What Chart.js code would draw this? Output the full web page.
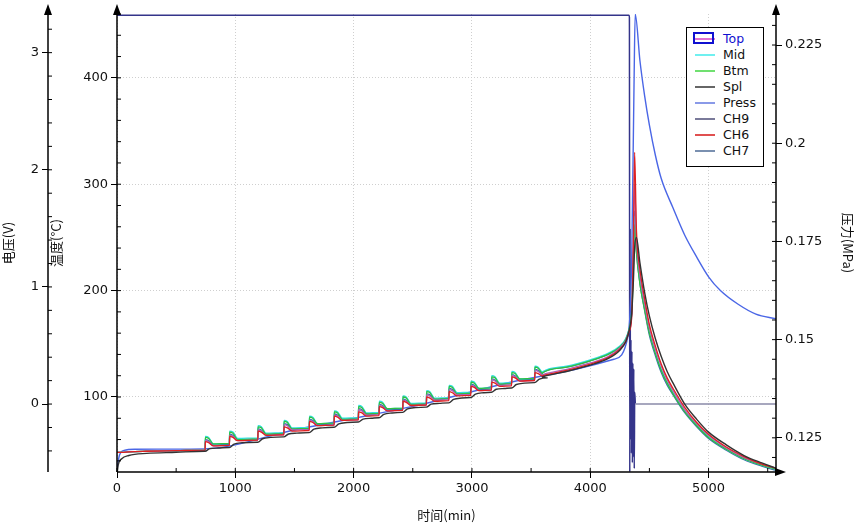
<!DOCTYPE html>
<html><head><meta charset="utf-8">
<script src="https://cdn.jsdelivr.net/npm/chart.js@4/dist/chart.umd.min.js"></script>
<style>
body{margin:0;background:#fff;font-family:"DejaVu Sans",sans-serif}
#wrap{position:relative;width:856px;height:527px}
#lg{position:absolute;left:686px;top:27px;width:78px;height:140px;border:1px solid #000;background:#fff;font-size:12.5px;line-height:16px;padding-top:3px;box-sizing:border-box}
#lg div{position:relative;height:16px;padding-left:36px;color:#111}
#lg span{position:absolute;left:8px;top:7px;width:20px;height:2px}
</style></head><body>
<div id="wrap"><canvas id="c" width="856" height="527"></canvas>
<div id="lg"></div></div>
<script>
// ---- data ----
const stepTimes = [745,950,1190,1410,1625,1835,2040,2215,2415,2615,2805,2990,3165,3335,3530];
const midPlateau = [56,61,66,71,75,80,85,89,94,99,104,108,113,117,122];
const midPeak    = [63,68,73,78,82,87,92,96,101,106,111,115,120,124,129];
const btmPlateau = [56,60,65,70,75,79,84,89,93,98,103,108,112,117,121];
const btmPeak    = [62,67,72,77,81,86,91,95,100,105,110,114,119,123,128];
const topPlateau = [54,59,64,69,73,78,83,87,92,97,102,106,111,115,120];
const topPeak    = [59,64,69,74,78,83,88,92,97,102,107,111,116,120,125];
const ch6Plateau = [54,59,64,68,73,78,82,87,92,96,101,106,110,115,119];
const ch6Peak    = [58,63,68,72,77,82,86,91,96,100,105,110,114,119,123];
const ch7Plateau = [55,60,65,70,74,79,84,88,93,98,103,107,112,116,121];
const ch7Peak    = [60,65,70,75,79,84,89,93,98,103,108,112,117,121,126];
const splPlateau = [52,57,62,66,71,76,80,85,90,94,99,104,108,113,118];
const tailT   = [3600,3800,4000,4150,4250,4300,4330,4350,4365,4375,4390,4420,4460,4500,4550,4600,4650,4700,4800,4900,5000,5150,5300,5450,5570];
const midTail = [124,129,135,141,148,155,165,180,230,270,240,210,185,162,142,126,114,104,87,74,63,51,42,36,32];
const btmTail = [123,128,134,140,147,154,164,178,220,262,236,206,182,160,141,125,113,103,86,73,62,51,42,36,32];
const topTail = [121,126,132,138,146,153,163,176,240,300,250,214,188,165,145,129,116,106,88,75,64,52,43,37,33];
const ch6Tail = [120,125,131,137,145,152,162,175,250,330,258,220,192,168,148,131,118,108,90,76,65,53,44,37,33];
const ch7Tail = [123,128,134,140,147,154,165,182,235,275,238,207,181,158,139,123,111,102,85,72,61,50,41,35,31];
const splTail = [119,124,130,136,144,152,163,178,210,240,250,226,198,176,155,138,124,113,93,79,67,55,45,38,33];
const startT  = [0,10,40,100,250,500,740];
const startV  = [48,48,48,48.5,49,49.5,50];
const splStartV = [27,36,42,45,47,48,49];
const voltT = [0,4328,4331,4334,4337,4340,4344,4348,4352,4356,4360,4364,4368,4372,4376,4382,4392,5570];
const voltV = [3.32,3.32,3.3,-0.58,1.5,-0.3,0.55,-0.42,0.45,-0.5,0.35,-0.45,0.3,-0.55,0.1,0,0,0];
const pressT = [0,20,60,150,740,1500,2500,3550,4200,4320,4350,4370,4380,4420,4460,4500,4550,4600,4700,4800,4900,5000,5100,5250,5400,5570];
const pressV = [0.117,0.1205,0.1218,0.1221,0.1222,0.127,0.133,0.1405,0.145,0.151,0.17,0.215,0.2329,0.221,0.212,0.2046,0.197,0.191,0.1835,0.1765,0.171,0.166,0.1625,0.159,0.1565,0.1553];

const tempTicks = [100,200,300,400];
const voltTicks = [0,1,2,3];
const pressTicks = [0.125,0.15,0.175,0.2,0.225];
const timeTicks = [0,1000,2000,3000,4000,5000];

function tempSeries(plateau, peak, tailV, sV, smooth){
  const pts = startT.map((t,i)=>({x:t,y:sV[i]}));
  let prev = sV[sV.length-1];
  stepTimes.forEach((t,i)=>{
    pts.push({x:t,y:prev});
    if(smooth){ pts.push({x:t+40,y:(prev+plateau[i])/2+1}); pts.push({x:t+110,y:plateau[i]}); }
    else { pts.push({x:t+2,y:peak[i]}); pts.push({x:t+30,y:peak[i]-1}); pts.push({x:t+70,y:plateau[i]}); }
    const next = i+1<stepTimes.length ? stepTimes[i+1]-2 : tailT[0]-10;
    pts.push({x:next,y:plateau[i]+0.5});
    prev = plateau[i]+0.5;
  });
  tailT.forEach((t,i)=>pts.push({x:t,y:tailV[i]}));
  return pts;
}
const zip=(a,b)=>a.map((x,i)=>({x,y:b[i]}));
const ds=(label,data,color,axis,w)=>({label,data,borderColor:color,yAxisID:axis,borderWidth:w||1.3,pointRadius:0,tension:0,cubicInterpolationMode:'monotone',fill:false});
const volt=ds('CH9',zip(voltT,voltV),'#34348a','yV',1.5);
volt.segment={borderColor:c=>c.p0.parsed.x>=4382?'#8a8aa8':undefined};
const datasets=[
  ds('Spl',tempSeries(splPlateau,splPlateau,splTail,splStartV,true),'#333333','yT',1.4),
  ds('CH6',tempSeries(ch6Plateau,ch6Peak,ch6Tail,startV),'#e02020','yT'),
  ds('Top',tempSeries(topPlateau,topPeak,topTail,startV),'#b060b8','yT'),
  ds('Btm',tempSeries(btmPlateau,btmPeak,btmTail,startV),'#30c040','yT'),
  ds('Mid',tempSeries(midPlateau,midPeak,midTail,startV),'#30e0e0','yT'),
  ds('CH7',tempSeries(ch7Plateau,ch7Peak,ch7Tail,startV),'#3a70a8','yT'),
  ds('Press',zip(pressT,pressV),'#4a66e6','yP',1.4),
  volt
];
const legendItems=[['Top','#e070d0'],['Mid','#70f0f0'],['Btm','#70e070'],['Spl','#666'],['Press','#8a9ae8'],['CH9','#7a7a9a'],['CH6','#e05050'],['CH7','#7a90b0']];
document.getElementById('lg').innerHTML=legendItems.map((it,i)=>`<div${i==0?' style="color:#1010d0"':''}><span style="background:${it[1]}"></span>${i==0?'<i style="position:absolute;left:6px;top:1px;width:21px;height:12px;border:2px solid #1010d0;box-sizing:border-box"></i>':''}${it[0]}</div>`).join('');

const tickFont={family:'DejaVu Sans',size:13};
const cjk={family:'Noto Sans CJK SC',size:13};
const minor={x:[0,5570,500],yT:[29.5,460,20],yV:[-0.58,3.33,0.2],yP:[0.1163,0.2329,0.005]};
const deco={id:'deco',afterDraw(ch){
  const c=ch.ctx; c.save(); c.strokeStyle='#000'; c.fillStyle='#000';
  const a=ch.chartArea;
  const vx=ch.scales.yV.right;
  c.lineWidth=1.5;
  c.beginPath();c.moveTo(a.left,a.bottom);c.lineTo(a.left,a.top-6);c.stroke();
  c.beginPath();c.moveTo(vx,a.bottom);c.lineTo(vx,a.top-6);c.stroke();
  c.beginPath();c.moveTo(a.right,a.bottom);c.lineTo(a.right,a.top-6);c.stroke();
  c.beginPath();c.moveTo(a.left,a.bottom);c.lineTo(a.right+6,a.bottom);c.stroke();
  const up=x=>{c.beginPath();c.moveTo(x,a.top-10);c.lineTo(x-4,a.top+1);c.lineTo(x+4,a.top+1);c.closePath();c.fill();};
  up(a.left);up(vx);up(a.right);
  c.beginPath();c.moveTo(a.right+10,a.bottom);c.lineTo(a.right-1,a.bottom-4);c.lineTo(a.right-1,a.bottom+4);c.closePath();c.fill();
  c.lineWidth=1;
  for(const k in minor){const s=ch.scales[k];const [lo,hi,st]=minor[k];
    for(let v=Math.ceil(lo/st)*st;v<=hi;v+=st){const p=s.getPixelForValue(v);c.beginPath();
      if(k==='x'){c.moveTo(p,a.bottom);c.lineTo(p,a.bottom-4);}
      else if(k==='yP'){c.moveTo(a.right,p);c.lineTo(a.right-4,p);}
      else {const x0=k==='yT'?a.left:vx;c.moveTo(x0,p);c.lineTo(x0+4,p);}
      c.stroke();}}
  c.restore();
}};
const fixTicks=arr=>function(s){s.ticks=arr.map(v=>({value:v}));};
const grid={color:'#cfcfcf',lineWidth:1,tickLength:6,tickColor:'#000'};
new Chart(document.getElementById('c'),{type:'line',data:{datasets},plugins:[deco],
 options:{responsive:false,animation:false,layout:{padding:{top:14,left:0,right:0,bottom:0}},
  plugins:{legend:{display:false},tooltip:{enabled:false}},
  scales:{
   x:{type:'linear',min:0,max:5570,afterBuildTicks:fixTicks(timeTicks),ticks:{font:tickFont,color:'#111',maxRotation:0,autoSkip:false,callback:v=>String(v)},
      grid:grid,border:{display:false,dash:[1,2]},
      title:{display:true,text:'时间(min)',font:cjk,color:'#111',padding:{top:2}},
      afterFit(s){s.height=55;}},
   yT:{position:'left',weight:0,min:29.5,max:460,afterBuildTicks:fixTicks(tempTicks),ticks:{font:tickFont,color:'#111',autoSkip:false,callback:v=>String(v)},
      grid:grid,border:{display:false,dash:[1,2]},
      title:{display:true,text:'温度(°C)',font:cjk,color:'#111',padding:{top:0,bottom:4}},
      afterFit(s){s.width=69;}},
   yV:{position:'left',weight:1,min:-0.58,max:3.33,afterBuildTicks:fixTicks(voltTicks),ticks:{font:tickFont,color:'#111',autoSkip:false,callback:v=>String(v)},
      grid:{drawOnChartArea:false,tickLength:6,tickColor:'#000'},border:{display:false},
      title:{display:true,text:'电压(V)',font:cjk,color:'#111',padding:0},
      afterFit(s){s.width=48;}},
   yP:{position:'right',min:0.1163,max:0.2329,afterBuildTicks:fixTicks(pressTicks),ticks:{font:tickFont,color:'#111',autoSkip:false,callback:v=>String(+v.toFixed(3))},
      grid:{drawOnChartArea:false,tickLength:6,tickColor:'#000'},border:{display:false},
      title:{display:true,text:'压力(MPa)',font:cjk,color:'#111',padding:{top:0,bottom:10}},
      afterFit(s){s.width=80;}}
  }}});
</script></body></html>
